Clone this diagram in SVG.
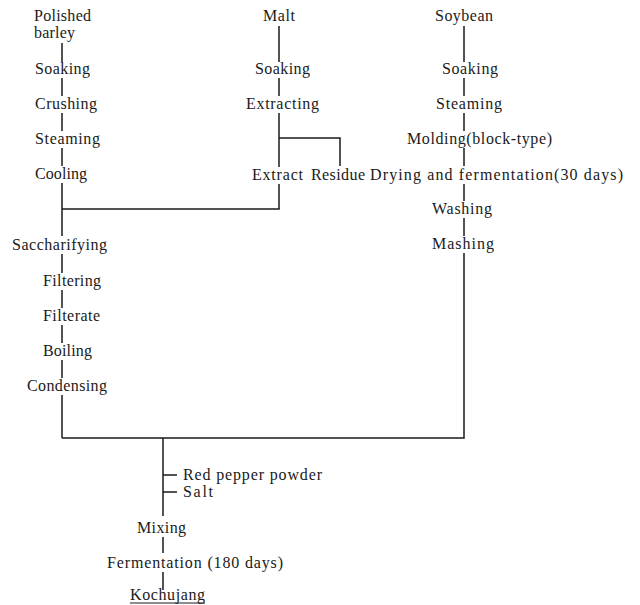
<svg xmlns="http://www.w3.org/2000/svg" width="640" height="605" viewBox="0 0 640 605">
<style>
text{font-family:"Liberation Serif","Times New Roman",serif;font-size:16px;fill:#1a1a1a}
.c line,.c path{stroke:#1a1a1a;stroke-width:1.5;fill:none}
</style>
<rect width="640" height="605" fill="#fff"/>
<g class="c" id="connectors">
<line x1="62" y1="43" x2="62" y2="62"/>
<line x1="62" y1="78" x2="62" y2="96"/>
<line x1="62" y1="113" x2="62" y2="131"/>
<line x1="62" y1="148" x2="62" y2="166"/>
<line x1="62" y1="183" x2="62" y2="236"/>
<line x1="62" y1="254" x2="62" y2="273"/>
<line x1="62" y1="290" x2="62" y2="308"/>
<line x1="62" y1="325" x2="62" y2="343"/>
<line x1="62" y1="360" x2="62" y2="378"/>
<line x1="62" y1="395" x2="62" y2="438"/>
<line x1="279" y1="26" x2="279" y2="62"/>
<line x1="279" y1="78" x2="279" y2="96"/>
<line x1="279" y1="113" x2="279" y2="167"/>
<path d="M279 138 H340 V166"/>
<line x1="279" y1="184" x2="279" y2="209"/>
<line x1="62" y1="209" x2="279.7" y2="209"/>
<line x1="464" y1="26" x2="464" y2="62"/>
<line x1="464" y1="78" x2="464" y2="96"/>
<line x1="464" y1="113" x2="464" y2="131"/>
<line x1="464" y1="148" x2="464" y2="166"/>
<line x1="464" y1="184" x2="464" y2="201"/>
<line x1="464" y1="218" x2="464" y2="236"/>
<path d="M464 253 V438 H62"/>
<line x1="163" y1="438" x2="163" y2="516"/>
<line x1="163" y1="475" x2="177" y2="475"/>
<line x1="163" y1="492" x2="177" y2="492"/>
<line x1="163" y1="537" x2="163" y2="553"/>
<line x1="163" y1="572" x2="163" y2="590"/>
</g>
<g id="polished-barley"><text x="34" y="21" textLength="57">Polished</text><text x="34" y="38" textLength="41">barley</text></g>
<g id="soaking1"><text x="35" y="74" textLength="55">Soaking</text></g>
<g id="crushing"><text x="35" y="109" textLength="62">Crushing</text></g>
<g id="steaming1"><text x="35" y="144" textLength="65">Steaming</text></g>
<g id="cooling"><text x="35" y="179" textLength="52">Cooling</text></g>
<g id="saccharifying"><text x="12" y="250" textLength="95">Saccharifying</text></g>
<g id="filtering"><text x="43" y="286" textLength="58">Filtering</text></g>
<g id="filterate"><text x="43" y="321" textLength="57">Filterate</text></g>
<g id="boiling"><text x="43" y="356" textLength="49">Boiling</text></g>
<g id="condensing"><text x="27" y="391" textLength="80">Condensing</text></g>
<g id="malt"><text x="263" y="21" textLength="32">Malt</text></g>
<g id="soaking2"><text x="255" y="74" textLength="55">Soaking</text></g>
<g id="extracting"><text x="246" y="109" textLength="73">Extracting</text></g>
<g id="extract"><text x="252" y="180" textLength="51">Extract</text></g>
<g id="residue"><text x="311" y="180" textLength="54">Residue</text></g>
<g id="soybean"><text x="435" y="21" textLength="58">Soybean</text></g>
<g id="soaking3"><text x="442" y="74" textLength="56">Soaking</text></g>
<g id="steaming2"><text x="436" y="109" textLength="66">Steaming</text></g>
<g id="molding"><text x="407" y="144" textLength="145">Molding(block-type)</text></g>
<g id="drying"><text x="370" y="180" textLength="253">Drying and fermentation(30 days)</text></g>
<g id="washing"><text x="432" y="214" textLength="60">Washing</text></g>
<g id="mashing"><text x="432" y="249" textLength="62">Mashing</text></g>
<g id="red-pepper"><text x="183" y="480" textLength="139">Red pepper powder</text></g>
<g id="salt"><text x="183" y="497" textLength="30">Salt</text></g>
<g id="mixing"><text x="137" y="533" textLength="49">Mixing</text></g>
<g id="fermentation"><text x="107" y="568" textLength="176">Fermentation (180 days)</text></g>
<g id="kochujang"><text x="130" y="600" textLength="75">Kochujang</text><line x1="130" y1="603" x2="205" y2="603" stroke="#1a1a1a" stroke-width="1"/></g>
</svg>
